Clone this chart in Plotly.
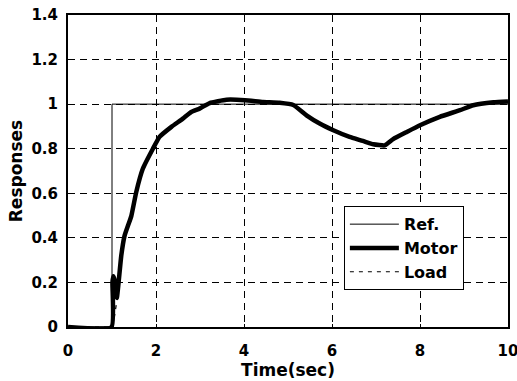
import plotly.graph_objects as go

# Data
ref_t = [0, 1.0, 1.0, 10]
ref_y = [0, 0, 1, 1]

motor_t = [0, 0.99, 1.01, 1.03, 1.06, 1.09, 1.11, 1.15, 1.21, 1.285, 1.44, 1.55, 1.70, 1.93, 2.08,
           2.35, 2.61, 2.80, 2.99, 3.22, 3.6, 4.02, 4.43, 4.81, 5.12, 5.42, 5.72, 6.03, 6.40,
           6.70, 6.94, 7.20, 7.39, 7.70, 8.0, 8.45, 8.91, 9.21, 9.67, 10]
motor_y = [0, 0, 0.2, 0.228, 0.21, 0.15, 0.131, 0.2, 0.319, 0.409, 0.499, 0.605, 0.71, 0.80, 0.853,
           0.898, 0.935, 0.965, 0.98, 1.005, 1.02, 1.018, 1.01, 1.006, 0.996, 0.95, 0.913, 0.883, 0.853,
           0.835, 0.82, 0.815, 0.843, 0.875, 0.905, 0.943, 0.973, 0.995, 1.008, 1.012]

load_t = [0, 1.02, 1.12, 1.21, 1.285, 1.44, 1.55, 1.70, 1.93, 2.08, 2.35, 2.61, 2.80, 2.99, 3.22,
          3.6, 4.02, 4.43, 4.81, 5.12, 5.42, 5.72, 6.03, 6.40, 6.70, 6.94, 7.20, 7.39, 7.70, 8.0,
          8.45, 8.91, 9.21, 9.67, 10]
load_y = [0, 0, 0.13, 0.319, 0.409, 0.499, 0.605, 0.71, 0.80, 0.853, 0.898, 0.935, 0.965, 0.98, 1.005,
          1.02, 1.018, 1.01, 1.006, 0.996, 0.95, 0.913, 0.883, 0.853, 0.835, 0.82, 0.815, 0.843, 0.875,
          0.905, 0.943, 0.973, 0.995, 1.008, 1.012]

x_ticks = [0, 2, 4, 6, 8, 10]
y_ticks = [0, 0.2, 0.4, 0.6, 0.8, 1, 1.2, 1.4]
y_labels = ["0", "0.2", "0.4", "0.6", "0.8", "1", "1.2", "1.4"]

FONT = "DejaVu Sans, Liberation Sans, Arial, sans-serif"

fig = go.Figure()
fig.add_trace(go.Scatter(x=load_t, y=load_y, mode="lines", name="Load", legendrank=3,
                         line=dict(color="black", width=1.2, dash="4px,5px")))
fig.add_trace(go.Scatter(x=ref_t, y=ref_y, mode="lines", name="Ref.", legendrank=1,
                         line=dict(color="black", width=1)))
fig.add_trace(go.Scatter(x=motor_t, y=motor_y, mode="lines", name="Motor", legendrank=2,
                         line=dict(color="black", width=4.5, shape="spline", smoothing=0.4)))

axis_common = dict(
    showline=True, linecolor="black", linewidth=2, mirror=True,
    showgrid=True, gridcolor="black", gridwidth=1, griddash="7px,5px",
    zeroline=False, ticks="inside", ticklen=3, tickcolor="black",
    automargin=False, ticklabeloverflow="allow",
    tickfont=dict(family=FONT, size=15, color="black", weight="bold"),
)

fig.update_layout(
    width=517, height=381,
    margin=dict(l=68, r=9, t=15, b=54),
    paper_bgcolor="white", plot_bgcolor="white",
    showlegend=True,
    legend=dict(x=0.627, y=0.387, xanchor="left", yanchor="top",
                bgcolor="white", bordercolor="black", borderwidth=1,
                font=dict(family=FONT, size=16, color="black", weight="bold"),
                tracegroupgap=0, itemwidth=49, traceorder="normal",
                entrywidth=122, entrywidthmode="pixels"),
    xaxis=dict(range=[0, 10], tickvals=x_ticks, ticklabelstandoff=9,
               title=dict(text="Time(sec)", standoff=0,
                          font=dict(family=FONT, size=17, color="black", weight="bold")),
               **axis_common),
    yaxis=dict(range=[0, 1.4], tickvals=y_ticks, ticktext=y_labels, ticklabelstandoff=5,
               title=dict(text="Responses", standoff=4,
                          font=dict(family=FONT, size=17, color="black", weight="bold")),
               **axis_common),
)

fig.write_html("out.html")
